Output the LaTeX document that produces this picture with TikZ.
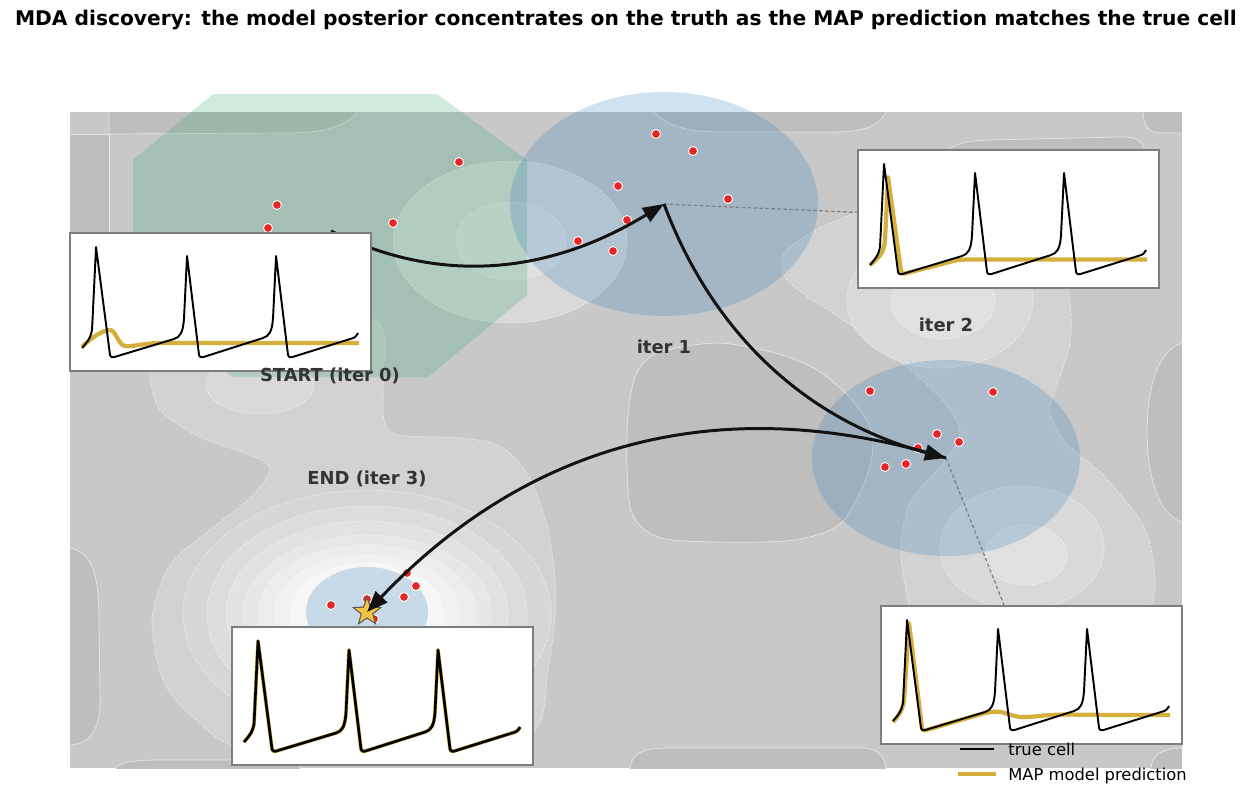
\documentclass[tikz,border=0pt]{standalone}
\usepackage{fontspec}
\setmainfont{DejaVu Sans}
\usetikzlibrary{arrows.meta,shapes.geometric}

\definecolor{bggray}{RGB}{200,200,200}
\definecolor{dkgray}{RGB}{190,190,190}
\definecolor{ltgray}{RGB}{210,210,210}
\definecolor{postgreen}{RGB}{40,160,105}
\definecolor{postblue}{RGB}{40,122,186}
\definecolor{dotred}{RGB}{228,38,38}
\definecolor{mapgold}{RGB}{212,175,60}
\definecolor{stargold}{RGB}{242,196,64}
\definecolor{labgray}{RGB}{51,51,51}
\definecolor{boxgray}{RGB}{125,125,125}

% spike train of the true cell, in inset pixels
\newcommand{\truecell}[1]{%
  \draw[#1] (12,115) .. controls (16,110) and (20,107) .. (22,97) -- (26,14) -- (40,122)
    .. controls (41,125) and (43,124.5) .. (46,123.5) -- (104,106)
    .. controls (110,104) and (113,100) .. (114,85) -- (117,23) -- (129,122)
    .. controls (130,125) and (132,124.5) .. (135,123.5) -- (193,105)
    .. controls (199,103) and (202,99) .. (203,85) -- (206,23) -- (218,122)
    .. controls (219,125) and (221,124.5) .. (224,123.5) -- (280,106)
    .. controls (284,105) and (286,104) .. (288,100);}

\begin{document}
\begin{tikzpicture}[x=0.02cm,y=-0.02cm,font=\fontsize{9.3}{11}\selectfont,
  darkzone/.style={fill=dkgray,draw=white,draw opacity=0.6,line width=0.4pt},
  lightzone/.style={fill=#1,draw=white,draw opacity=0.55,line width=0.4pt,dash pattern=on 1.6pt off 0.9pt},
  postzone/.style={fill=#1,fill opacity=0.22},
  reddot/.style={fill=dotred,draw=white,line width=0.5pt},
  hop/.style={draw=black!93,line width=1.7pt,-{Triangle[length=12pt,width=9pt]}},
  guide/.style={draw=boxgray,line width=0.7pt,dash pattern=on 2pt off 1.4pt},
  tracebox/.style={draw=boxgray,line width=0.85pt,fill=white,minimum width=6.02cm,minimum height=2.76cm,inner sep=0pt,outer sep=0pt},
  trueline/.style={black,line width=1.1pt,line join=round},
  mapline/.style={mapgold,line width=2.4pt,line join=round},
  zonelab/.style={text=labgray,font=\fontsize{10.2}{12}\selectfont\bfseries},
  legtext/.style={anchor=base west,inner sep=0pt},
  starmark/.style={star,star points=5,star point ratio=2.4,minimum size=0.58cm,inner sep=0pt,fill=stargold,draw=black!65,line width=0.6pt}]
\useasboundingbox (0,0) rectangle (1252,796);

\node[font=\fontsize{11.5}{13.5}\selectfont\bfseries] (title) at (626,20)
  {MDA discovery: the model posterior concentrates on the truth as the MAP prediction matches the true cell};

% centres of the posteriors and of the insets
\coordinate (r0) at (331,231);
\coordinate (r1) at (664,204);
\coordinate (r2) at (946,458);
\coordinate (r3) at (367,612);
\coordinate (in0c) at (220.5,302);
\coordinate (in1c) at (1008.5,219);
\coordinate (in2c) at (1031.5,675);
\coordinate (in3c) at (382.5,696);

% landscape
\begin{scope}
\clip (70,112) rectangle (1182,768);
\fill[bggray] (70,112) rectangle (1182,768);
\path[darkzone] (109,100) -- (362,100) -- (357,112) .. controls (345,128) and (320,133) .. (285,133) -- (109,134) -- cycle;
\path[darkzone] (60,134) -- (109,134) -- (109,300) -- (60,300) -- cycle;
\path[darkzone] (650,100) -- (654,112) .. controls (670,128) and (690,132) .. (724,132) -- (835,132) .. controls (865,132) and (880,125) .. (886,112) -- (890,100) -- cycle;
\path[darkzone] (1143,100) -- (1143,112) .. controls (1144,126) and (1148,133) .. (1162,133) -- (1195,133) -- (1195,100) -- cycle;
\path[darkzone] (940,160) .. controls (950,145) and (960,141) .. (990,140) -- (1120,137) .. controls (1140,137) and (1145,142) .. (1146,160) -- (1146,250) -- (940,250) -- cycle;
\path[darkzone] plot[smooth cycle] coordinates {(627,433) (635,377) (658,353) (717,343) (775,353) (817,370) (852,400) (872,433) (868,473) (841,523) (794,540) (717,542) (658,537) (631,510)};
\path[darkzone] (1195,343) -- (1182,343) .. controls (1160,350) and (1148,380) .. (1147,430) .. controls (1147,480) and (1160,515) .. (1182,522) -- (1195,522) -- cycle;
\path[darkzone] (60,548) -- (70,548) .. controls (92,552) and (99,575) .. (99,620) -- (100,700) .. controls (100,730) and (90,744) .. (70,745) -- (60,745) -- cycle;
\path[darkzone] (628,780) -- (630,768) .. controls (632,752) and (645,748) .. (670,748) -- (860,748) .. controls (878,748) and (884,756) .. (886,768) -- (888,780) -- cycle;
\path[darkzone] (114,780) -- (116,768) .. controls (120,762) and (135,760) .. (160,760) -- (300,760) -- (300,780) -- cycle;
\path[darkzone] (1150,780) -- (1151,768) .. controls (1152,756) and (1160,749) .. (1182,748) -- (1195,748) -- (1195,780) -- cycle;
\path[lightzone=ltgray] plot[smooth cycle] coordinates {(150,330) (260,318) (375,320) (383,380) (384,420) (398,435) (460,438) (500,446) (528,475) (548,530) (556,600) (548,670) (535,730) (460,758) (300,758) (232,745) (205,728) (165,685) (152,620) (170,565) (210,530) (250,498) (270,470) (255,457) (200,437) (160,410) (150,375)};
\path[lightzone=ltgray] plot[smooth cycle] coordinates {(880,205) (820,228) (785,252) (784,275) (805,295) (833,313) (895,357) (942,400) (960,433) (940,467) (911,500) (901,543) (906,590) (925,650) (1000,700) (1120,690) (1150,610) (1155,577) (1144,527) (1105,477) (1066,443) (1050,413) (1054,393) (1070,343) (1068,290) (1040,210) (960,190)};
\path[lightzone=white!31!bggray] (510,242) ellipse [x radius=117,y radius=81];
\path[lightzone=white!44!bggray] (511,241) ellipse [x radius=55,y radius=39];
\path[lightzone=white!31!bggray] (260,385) ellipse [x radius=54,y radius=29];
\path[lightzone=white!31!bggray] (940,300) ellipse [x radius=93,y radius=68];
\path[lightzone=white!44!bggray] (943,302) ellipse [x radius=52,y radius=37];
\path[lightzone=white!31!bggray] (1022,548) ellipse [x radius=82,y radius=62];
\path[lightzone=white!44!bggray] (1026,555) ellipse [x radius=41,y radius=30];
\foreach \rx/\ry/\p in {184/124/25,160/108/36,141/93/47,124/79/56,109/69/65,93/59/74,77/51/83}
  \path[lightzone=white!\p!bggray] (367,614) ellipse [x radius=\rx,y radius=\ry];
\end{scope}

% posteriors
\fill[postzone=postgreen] (213,94) -- (437,94) -- (527,160) -- (527,295) -- (428,377) -- (232,377) -- (133,295) -- (133,160) -- cycle;
\fill[postzone=postblue] (r1) ellipse [x radius=154,y radius=112];
\fill[postzone=postblue] (r2) ellipse [x radius=134,y radius=98];
\fill[postzone=postblue] (r3) ellipse [x radius=61,y radius=45];

% samples
\foreach \p in {(277,205),(268,228),(393,223),(459,162),
  (656,134),(693,151),(618,186),(728,199),(627,220),(578,241),(613,251),
  (870,391),(993,392),(937,434),(959,442),(918,448),(885,467),(906,464),
  (407,573),(416,586),(404,597),(331,605),(367,599),(374,619)}
  \path[reddot] \p circle (4.5);

% guides to insets
\draw[guide] (r1) -- (in1c);
\draw[guide] (r2) -- (in2c);

\node[starmark] (truth) at (r3) {};

% search path
\draw[hop] (r0) .. controls (437,284) and (546,276) .. (r1);
\draw[hop] (r1) .. controls (714,337) and (809,421) .. (r2);
\draw[hop] (r2) .. controls (723,390) and (530,441) .. (r3);

% insets
\node[tracebox] (in0) at (in0c) {};
\begin{scope}[shift={(in0.north west)}]
\draw[mapline] (12,114) .. controls (22,104) and (33,97) .. (40,97) .. controls (46,97) and (48,112) .. (55,113) .. controls (62,114) and (75,110) .. (90,110) -- (289,110);
\truecell{trueline}
\end{scope}

\node[tracebox] (in1) at (in1c) {};
\begin{scope}[shift={(in1.north west)}]
\draw[mapline] (12,115) .. controls (20,108) and (26,104) .. (27,90) -- (30,27) -- (43,121) .. controls (44,124) and (46,124) .. (49,123) -- (95,111) .. controls (100,110) and (104,109.5) .. (110,109.5) -- (289,109.5);
\truecell{trueline}
\end{scope}

\node[tracebox] (in2) at (in2c) {};
\begin{scope}[shift={(in2.north west)}]
\draw[mapline] (12,116) .. controls (17,110) and (21,106) .. (23,95) -- (28,17) -- (41,122) .. controls (42,125) and (44,124.5) .. (47,123.5) -- (100,108) .. controls (108,106) and (115,105) .. (120,106) .. controls (128,108) and (134,111) .. (142,111) .. controls (155,111) and (165,108.5) .. (185,108.5) .. controls (220,109) and (260,109) .. (289,109);
\truecell{trueline}
\end{scope}

\node[tracebox] (in3) at (in3c) {};
\begin{scope}[shift={(in3.north west)}]
\truecell{mapline,line width=2.1pt}
\truecell{trueline,line width=1.5pt}
\end{scope}

% labels
\node[zonelab] (lab0) at (330,376) {START (iter 0)};
\node[zonelab] (lab1) at (664,347) {iter 1};
\node[zonelab] (lab2) at (946,325) {iter 2};
\node[zonelab] (lab3) at (367,479) {END (iter 3)};

% legend
\node[legtext] (leg0) at (1008,755) {true cell};
\node[legtext] (leg1) at (1008,780) {MAP model prediction};
\draw[black,line width=1.5pt] ([xshift=-0.96cm,yshift=0.12cm]leg0.base west) -- ([xshift=-0.28cm,yshift=0.12cm]leg0.base west);
\draw[mapgold,line width=2.6pt] ([xshift=-1cm,yshift=0.12cm]leg1.base west) -- ([xshift=-0.24cm,yshift=0.12cm]leg1.base west);
\end{tikzpicture}
\end{document}
